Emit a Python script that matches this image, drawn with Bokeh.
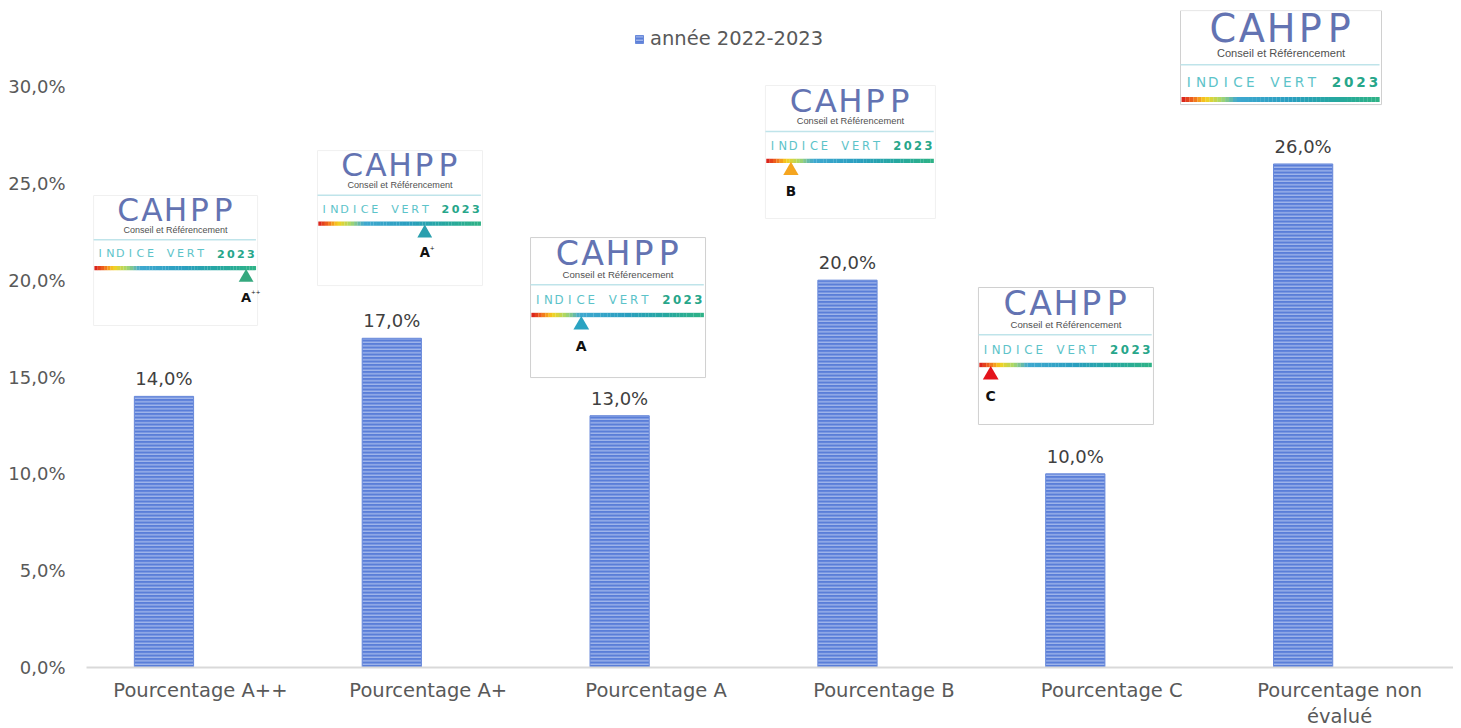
from bokeh.plotting import figure
from bokeh.models import Range1d, FixedTicker, Legend, LegendItem, ColumnDataSource
from bokeh.core.properties import value
from bokeh.embed import file_html
from bokeh.resources import INLINE

# ---------------- data ----------------
categories = ["Pourcentage A++", "Pourcentage A+", "Pourcentage A",
              "Pourcentage B", "Pourcentage C", "Pourcentage non\névalué"]
values = [14.0, 17.0, 13.0, 20.0, 10.0, 26.0]
series_name = "année 2022-2023"
y_ticks = [0, 5, 10, 15, 20, 25, 30]
y_tick_labels = ["0,0%", "5,0%", "10,0%", "15,0%", "20,0%", "25,0%", "30,0%"]

# logo annotations (decoration): grade letter, arrow position along the bar, arrow colour
logo_letters = ["A", "A", "A", "B", "C", ""]
logo_sup = ["++", "+", "", "", "", ""]
logo_arrow_pos = [0.93, 0.65, 0.29, 0.15, 0.07, None]
logo_arrow_colors = ["#35a87e", "#2a9fae", "#2aa3c2", "#f5a51f", "#e3131b", None]
# logo placement (layout)
logo_cx = [0.391, 1.376, 2.333, 3.353, 4.299, 5.243]
logo_top = [24.37, 26.69, 22.20, 30.05, 19.62, 33.92]
logo_w = [164, 165, 175, 170, 175, 201]
logo_h = [130, 135, 140, 133, 137, 94]
logo_border = ["#f0f0f0", "#f0f0f0", "#d0d0d0", "#f0f0f0", "#d0d0d0", "#d0d0d0"]

# ---------------- figure ----------------
FRAME_W, FRAME_H = 1367, 657
Y_END = 30 * FRAME_H / 581.0
PXX = FRAME_W / 6.0
PY = FRAME_H / Y_END

p = figure(frame_width=FRAME_W, frame_height=FRAME_H, output_backend="svg",
           toolbar_location=None,
           x_range=Range1d(0, 6), y_range=Range1d(0, Y_END),
           min_border_left=86, min_border_right=0,
           min_border_top=10, min_border_bottom=10)
p.outline_line_color = None
p.xgrid.visible = False
p.ygrid.visible = False
p.background_fill_color = "white"

GRAY = "#595959"
FONT = "DejaVu Sans"

# bars
bar_x = [i + 0.5 - 0.16 for i in range(len(values))]
src = ColumnDataSource(dict(x=bar_x, top=values,
                            lab=[f"{v:.1f}".replace(".", ",") + "%" for v in values]))
bars = p.vbar(x="x", top="top", width=0.26, source=src,
              fill_color="#5a7ed8", line_color="#6a8ada", line_width=1,
              hatch_pattern="horizontal_line", hatch_color="#bccbf3",
              hatch_scale=3.5, hatch_weight=1.0)
p.text(x="x", y="top", text="lab", source=src, text_align="center",
       text_baseline="bottom", y_offset=-7, text_font=value(FONT),
       text_font_size="18px", text_color="#404040")

# axes
p.xaxis.ticker = FixedTicker(ticks=[i + 0.5 for i in range(len(categories))])
p.xaxis.major_label_overrides = {i + 0.5: c for i, c in enumerate(categories)}
p.xaxis.axis_line_color = "#d9d9d9"
p.xaxis.axis_line_width = 2
p.xaxis.major_tick_line_color = None
p.xaxis.major_tick_out = 0
p.xaxis.major_tick_in = 0
p.xaxis.minor_tick_line_color = None
p.xaxis.major_label_text_font = FONT
p.xaxis.major_label_text_font_size = "19.5px"
p.xaxis.major_label_text_color = GRAY
p.xaxis.major_label_text_line_height = 1.15
p.xaxis.major_label_standoff = 11

p.yaxis.ticker = FixedTicker(ticks=y_ticks)
p.yaxis.major_label_overrides = {t: l for t, l in zip(y_ticks, y_tick_labels)}
p.yaxis.axis_line_color = None
p.yaxis.major_tick_line_color = None
p.yaxis.major_tick_out = 0
p.yaxis.major_tick_in = 0
p.yaxis.minor_tick_line_color = None
p.yaxis.major_label_text_font = FONT
p.yaxis.major_label_text_font_size = "18px"
p.yaxis.major_label_text_color = GRAY
p.yaxis.major_label_standoff = 21

legend = Legend(items=[LegendItem(label=series_name, renderers=[bars])],
                location=(548, 617), orientation="horizontal",
                border_line_color=None, background_fill_alpha=0,
                padding=0, margin=0, glyph_width=10, glyph_height=10,
                label_standoff=6, label_text_font=FONT,
                label_text_font_size="19.5px", label_text_color=GRAY)
p.add_layout(legend)

# ---------------- logos (decoration) ----------------
stops = [(0.00, "#d7191c"), (0.06, "#f26b1d"), (0.12, "#f7d21e"), (0.20, "#a8d86a"),
         (0.28, "#3fa9d0"), (0.55, "#2a9fc0"), (0.78, "#26a8a0"), (1.0, "#2fb386")]


def hex2rgb(h):
    return tuple(int(h[i:i + 2], 16) for i in (1, 3, 5))


def grad_color(t):
    for (t0, c0), (t1, c1) in zip(stops[:-1], stops[1:]):
        if t <= t1:
            f = (t - t0) / (t1 - t0) if t1 > t0 else 0
            a, b = hex2rgb(c0), hex2rgb(c1)
            return "#%02x%02x%02x" % tuple(int(a[k] + (b[k] - a[k]) * f) for k in range(3))
    return stops[-1][1]


indice = "INDICE VERT 2023"
cahpp = "CAHPP"
for k in range(len(logo_cx)):
    cx, top, w, h = logo_cx[k], logo_top[k], logo_w[k], logo_h[k]
    s = w / 200.0

    def X(u):
        return cx + (-w / 2.0 + u * s) / PXX

    def Y(v):
        return top - v * s / PY

    p.quad(left=[X(0)], right=[X(200)], top=[top], bottom=[top - h / PY],
           fill_color="white", line_color=logo_border[k], line_width=1)
    # CAHPP, letter-spaced
    cx_letters = [X(42 + i * 29) for i in range(len(cahpp))]
    p.text(x=cx_letters, y=[Y(18)] * len(cahpp), text=list(cahpp), text_align="center",
           text_baseline="middle", text_font=value("DejaVu Sans"),
           text_font_size=f"{38 * s:.1f}px", text_color="#6373b2")
    p.text(x=[X(100)], y=[Y(42)], text=["Conseil et Référencement"], text_align="center",
           text_baseline="middle", text_font=value("Liberation Sans"),
           text_font_size=f"{11 * s:.1f}px", text_color="#505050")
    p.segment(x0=[X(0)], x1=[X(198)], y0=[Y(54)], y1=[Y(54)],
              line_color="#bfe4ea", line_width=1.5)
    pitch = 196.0 / len(indice)
    xs, cols, styles = [], [], []
    chars = []
    for i, ch in enumerate(indice):
        if ch == " ":
            continue
        chars.append(ch)
        xs.append(X(2 + (i + 0.5) * pitch))
        bold = i >= 12
        cols.append("#27a68a" if bold else "#5cc3c9")
        styles.append("bold" if bold else "normal")
    p.text(x=xs, y=[Y(71)] * len(xs), text=chars, text_align="center",
           text_baseline="middle", text_font=value(FONT),
           text_font_size=f"{13.5 * s:.1f}px", text_color=cols, text_font_style=styles)
    n = 50
    lefts = [X(1 + 197 * j / n) for j in range(n)]
    rights = [X(1 + 197 * (j + 1) / n) + 0.0005 for j in range(n)]
    p.quad(left=lefts, right=rights, top=[Y(86)] * n, bottom=[Y(91)] * n,
           fill_color=[grad_color((j + 0.5) / n) for j in range(n)], line_color=None)
    if logo_arrow_pos[k] is not None:
        ax = X(200 * logo_arrow_pos[k])
        p.scatter(x=[ax], y=[Y(100)], marker="triangle", size=18 * s,
                  fill_color=logo_arrow_colors[k], line_color=None)
        p.text(x=[ax], y=[Y(124)], text=[logo_letters[k]], text_align="center",
               text_baseline="middle", text_font=value(FONT), text_font_style="bold",
               text_font_size=f"{16 * s:.1f}px", text_color="#111111")
        if logo_sup[k]:
            p.text(x=[ax + 6 * s / PXX], y=[Y(117)], text=[logo_sup[k]], text_align="left",
                   text_baseline="middle", text_font=value(FONT),
                   text_font_size=f"{7 * s:.1f}px", text_color="#111111")

open("out.html", "w").write(file_html(p, INLINE))
